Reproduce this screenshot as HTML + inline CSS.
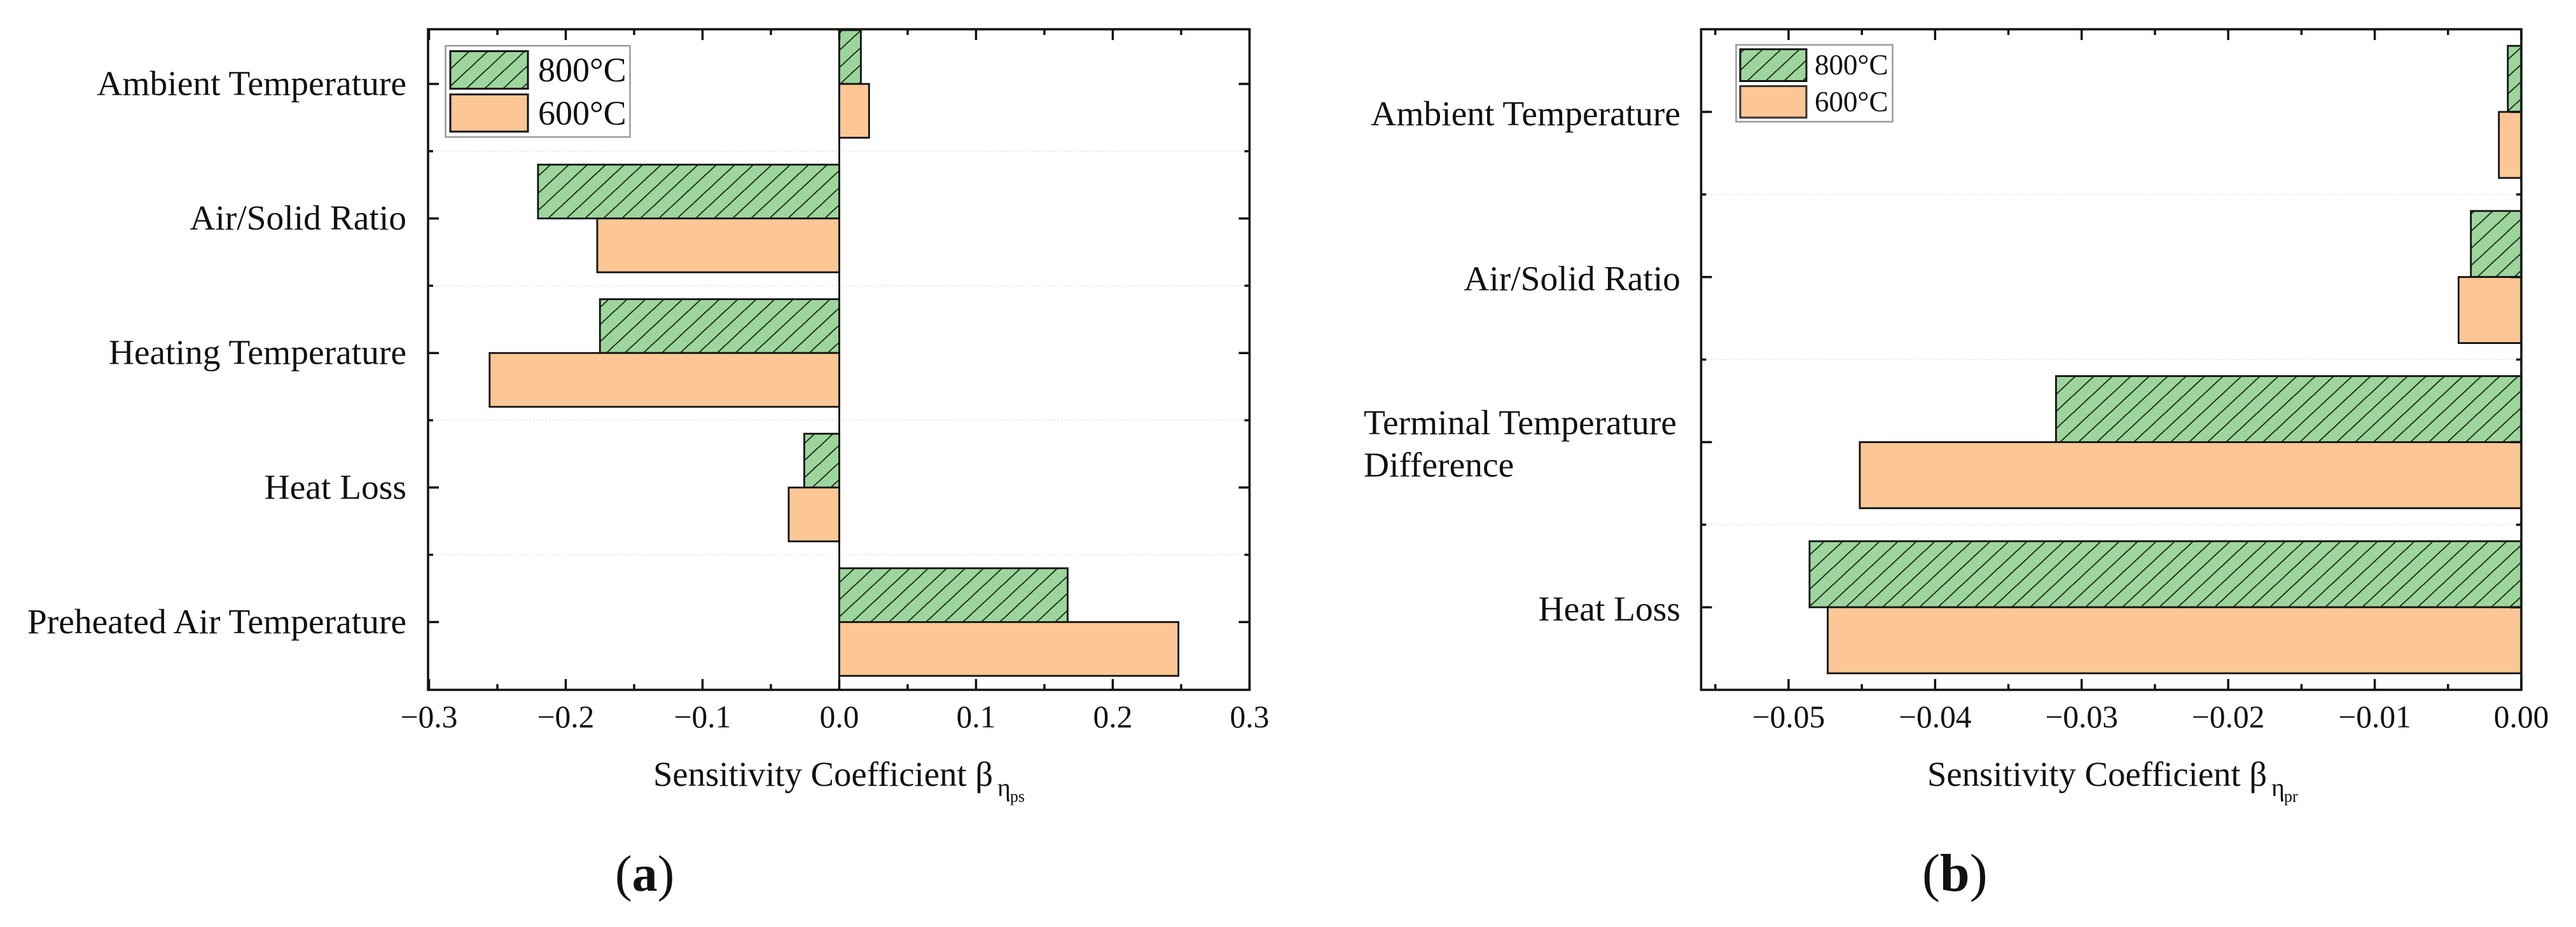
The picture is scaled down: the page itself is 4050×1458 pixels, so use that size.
<!DOCTYPE html>
<html lang="en">
<head>
<meta charset="utf-8">
<title>Sensitivity coefficient charts</title>
<style>
  html, body { margin: 0; padding: 0; background: #fff; }
  svg { display: block; }
  text { font-family: "Liberation Serif", "Times New Roman", serif; fill: #111; }
</style>
</head>
<body>
<svg id="figure" xmlns="http://www.w3.org/2000/svg" width="4050" height="1458" viewBox="0 0 4050 1458">
  <defs>
    <pattern id="hatch" patternUnits="userSpaceOnUse" width="29" height="27" x="10.5" y="2">
      <rect width="29" height="27" fill="#9DD69C"></rect>
      <path d="M-2 29 L31 -2" stroke="#1c2a1c" stroke-width="1.9" fill="none"></path>
      <path d="M-31 29 L2 -2" stroke="#1c2a1c" stroke-width="1.9" fill="none"></path>
      <path d="M27 29 L60 -2" stroke="#1c2a1c" stroke-width="1.9" fill="none"></path>
    </pattern>
    <clipPath id="clip-a"><rect x="673" y="46" width="1292" height="1039"></rect></clipPath>
    <clipPath id="clip-b"><rect x="2674" y="46" width="1291" height="1039"></rect></clipPath>
  </defs>
  <rect width="4050" height="1458" fill="#ffffff"></rect>

  <g id="panel-a"></g>
  <g id="panel-b"></g>

  <g>
    <rect x="700.5" y="72" width="290" height="143.5" fill="#fff" stroke="#9a9a9a" stroke-width="2.5"></rect>
    <rect x="708" y="80.5" width="122" height="59" fill="url(#hatch)" stroke="#111" stroke-width="3"></rect>
    <rect x="708" y="148.5" width="122" height="58.5" fill="#FCC795" stroke="#111" stroke-width="3"></rect>
    <text x="846" y="128" font-size="54">800°C</text>
    <text x="846" y="196" font-size="54">600°C</text>
  </g>
  <g>
    <rect x="2729.5" y="70.5" width="246" height="121" fill="#fff" stroke="#9a9a9a" stroke-width="2.5"></rect>
    <rect x="2736" y="77.5" width="104" height="50" fill="url(#hatch)" stroke="#111" stroke-width="3"></rect>
    <rect x="2736" y="135.5" width="104" height="49.5" fill="#FCC795" stroke="#333" stroke-width="3"></rect>
    <text x="2853" y="117" font-size="45">800°C</text>
    <text x="2853" y="175" font-size="45">600°C</text>
  </g>

  <g>
    <text x="1027" y="1236" font-size="54.7">Sensitivity Coefficient β</text>
    <text x="1568" y="1252" font-size="40">η</text>
    <text x="1588" y="1261" font-size="26">ps</text>
  </g>
  <g>
    <text x="3030" y="1236" font-size="54.7">Sensitivity Coefficient β</text>
    <text x="3571" y="1252" font-size="40">η</text>
    <text x="3591" y="1261" font-size="26">pr</text>
  </g>

  <text x="967" y="1401" font-size="80">(<tspan font-weight="bold">a</tspan>)</text>
  <text x="3022" y="1401" font-size="84">(<tspan font-weight="bold">b</tspan>)</text>
</svg>

<script>
// ---- Panel (a) data ----
const categoriesA = ["Ambient Temperature", "Air/Solid Ratio", "Heating Temperature", "Heat Loss", "Preheated Air Temperature"];
const series800A = [0.0158, -0.2203, -0.175, -0.0256, 0.167];
const series600A = [0.0218, -0.177, -0.2557, -0.037, 0.248];
const xMajorValuesA = [-0.3, -0.2, -0.1, 0, 0.1, 0.2, 0.3];
const xMajorLabelsA = ["\u22120.3", "\u22120.2", "\u22120.1", "0.0", "0.1", "0.2", "0.3"];
const xMinorValuesA = [-0.25, -0.15, -0.05, 0.05, 0.15, 0.25];

// ---- Panel (b) data ----
const categoriesB = ["Ambient Temperature", "Air/Solid Ratio", "Terminal Temperature|Difference", "Heat Loss"];
const series800B = [-0.00092, -0.00344, -0.03175, -0.04857];
const series600B = [-0.00153, -0.00428, -0.04514, -0.04733];
const xMajorValuesB = [-0.05, -0.04, -0.03, -0.02, -0.01, 0];
const xMajorLabelsB = ["\u22120.05", "\u22120.04", "\u22120.03", "\u22120.02", "\u22120.01", "0.00"];
const xMinorValuesB = [-0.055, -0.045, -0.035, -0.025, -0.015, -0.005];

const SVG_NS = "http://www.w3.org/2000/svg";

function make(tag, attrs, parent) {
  const el = document.createElementNS(SVG_NS, tag);
  for (const k in attrs) el.setAttribute(k, attrs[k]);
  parent.appendChild(el);
  return el;
}

function drawPanel(root, cfg, categories, s800, s600, majors, majorLabels, minors) {
  const xPos = v => cfg.x0 + v * cfg.xPerUnit;
  const catY = i => cfg.c0 + i * cfg.step;
  const half = cfg.step * 0.4;

  // faint separators and minor y ticks between categories
  for (let i = 0; i <= categories.length; i++) {
    const y = catY(i) - cfg.step / 2;
    if (y <= cfg.top + 4 || y >= cfg.bottom - 4) continue;
    const sep = make("line", { x1: cfg.left, x2: cfg.right, y1: y, y2: y, stroke: "#e6e6e6", "stroke-width": 2, "stroke-dasharray": "2 3" }, root);
    
    
    const tl = make("line", { x1: cfg.left, x2: cfg.left + 8, y1: y, y2: y, stroke: "#111", "stroke-width": 3.5 }, root);
    
    
    const tr = make("line", { x1: cfg.right, x2: cfg.right - 8, y1: y, y2: y, stroke: "#111", "stroke-width": 3.5 }, root);
    
    
  }

  // bars
  const bars = make("g", { "clip-path": "url(#" + cfg.clip + ")" }, root);
  
  
  categories.forEach((c, i) => {
    const y = catY(i);
    const a = xPos(s800[i]), z = xPos(0);
    const b800 = make("rect", { x: Math.min(a, z), y: y - half, width: Math.abs(a - z), height: half, fill: "url(#hatch)", stroke: "#111", "stroke-width": 2.8 }, bars);
    
    
    const p = xPos(s600[i]);
    const b600 = make("rect", { x: Math.min(p, z), y: y, width: Math.abs(p - z), height: half, fill: "#FCC795", stroke: "#111", "stroke-width": 2.8 }, bars);
    
    
  });

  // zero line
  const zero = make("line", { x1: xPos(0), x2: xPos(0), y1: cfg.top, y2: cfg.bottom, stroke: "#111", "stroke-width": 2.8 }, root);
  
  

  // frame
  const frame = make("rect", { x: cfg.left, y: cfg.top, width: cfg.right - cfg.left, height: cfg.bottom - cfg.top, fill: "none", stroke: "#151515", "stroke-width": 3.6 }, root);
  
  

  // x ticks
  majors.forEach((v, i) => {
    const x = xPos(v);
    const tb = make("line", { x1: x, x2: x, y1: cfg.bottom, y2: cfg.bottom - 17, stroke: "#111", "stroke-width": 3.5 }, root);
    
    
    const tt = make("line", { x1: x, x2: x, y1: cfg.top, y2: cfg.top + 17, stroke: "#111", "stroke-width": 3.5 }, root);
    
    
    const lab = make("text", { x: x, y: 1144, "font-size": 49.5, "text-anchor": "middle" }, root);
    
    
    lab.textContent = majorLabels[i];
  });
  minors.forEach(v => {
    const x = xPos(v);
    const tb = make("line", { x1: x, x2: x, y1: cfg.bottom, y2: cfg.bottom - 9, stroke: "#111", "stroke-width": 3.5 }, root);
    
    
    const tt = make("line", { x1: x, x2: x, y1: cfg.top, y2: cfg.top + 9, stroke: "#111", "stroke-width": 3.5 }, root);
    
    
  });

  // y ticks and category labels
  categories.forEach((c, i) => {
    const y = catY(i);
    const tl = make("line", { x1: cfg.left, x2: cfg.left + 17, y1: y, y2: y, stroke: "#111", "stroke-width": 3.5 }, root);
    
    
    const tr = make("line", { x1: cfg.right, x2: cfg.right - 17, y1: y, y2: y, stroke: "#111", "stroke-width": 3.5 }, root);
    
    
    const parts = c.split("|");
    if (parts.length === 1) {
      const lab = make("text", { x: cfg.labelRight, y: y + cfg.labelDy, "font-size": cfg.labelSize, "text-anchor": "end" }, root);
      
      
      lab.textContent = c;
    } else {
      parts.forEach((p, j) => {
        const lab = make("text", { x: cfg.multiLeft, y: y - 12.5 + j * 66.5, "font-size": cfg.labelSize }, root);
        
        
        lab.textContent = p;
      });
    }
  });
}

drawPanel(document.getElementById("panel-a"),
  { left: 673, right: 1964.5, top: 46, bottom: 1085, x0: 1319.5, xPerUnit: 2150, c0: 132, step: 211.6, clip: "clip-a", labelRight: 639, labelDy: 17.5, labelSize: 55.5 },
  categoriesA, series800A, series600A, xMajorValuesA, xMajorLabelsA, xMinorValuesA);

drawPanel(document.getElementById("panel-b"),
  { left: 2674.5, right: 3964, top: 46, bottom: 1085, x0: 3964, xPerUnit: 23040, c0: 176, step: 259.7, clip: "clip-b", labelRight: 2642, labelDy: 21, labelSize: 55.5, multiLeft: 2144 },
  categoriesB, series800B, series600B, xMajorValuesB, xMajorLabelsB, xMinorValuesB);
</script>
</body>
</html>
